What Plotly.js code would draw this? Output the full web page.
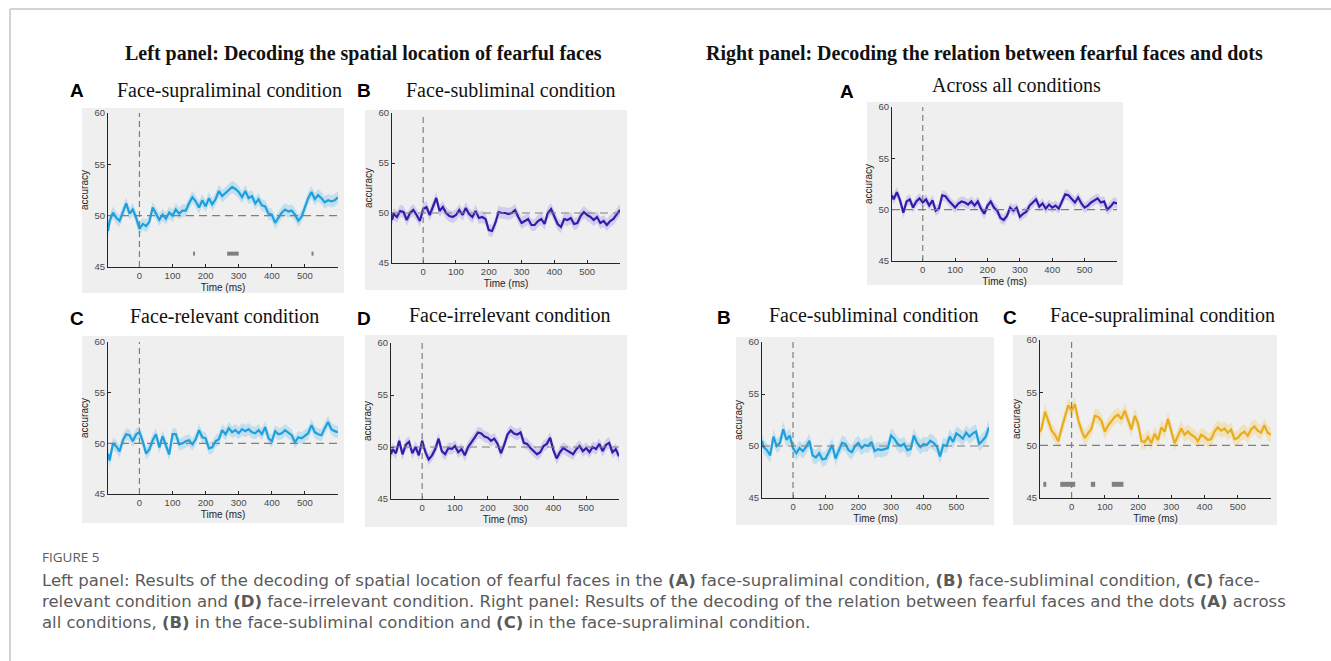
<!DOCTYPE html>
<html><head><meta charset="utf-8">
<script src="https://cdn.plot.ly/plotly-3.0.1.min.js"></script>
<style>html,body{margin:0;padding:0;background:#fff;}#chart{width:1331px;height:661px;}</style>
</head><body><div id="chart"></div>
<script>
// ---------- DATA ----------
const times = [-95,-90,-80,-70,-60,-50,-40,-30,-20,-10,
  0,10,20,30,40,50,60,70,80,90,
  100,110,120,130,140,150,160,170,180,190,
  200,210,220,230,240,250,260,270,280,290,
  300,310,320,330,340,350,360,370,380,390,
  400,410,420,430,440,450,460,470,480,490,
  500,510,520,530,540,550,560,570,580,590,
  600];
const timeTicks = [0,100,200,300,400,500];
const accTicks = [45,50,55,60];

// Left panel (spatial location)
const leftA_supraliminal = [48.5,49.5,50.3,49.8,49.5,50.4,51.2,50.2,50.6,49.8,
  48.7,49.2,49.0,49.4,50.8,50.2,49.6,50.1,49.7,50.3,
  50.0,50.6,50.2,50.5,50.5,51.2,51.8,51.4,50.8,51.5,
  50.9,51.7,51.1,51.6,52.4,51.9,52.2,52.5,52.8,52.6,
  52.3,51.8,52.4,51.7,51.9,51.2,51.6,51.0,50.9,50.2,
  50.1,49.3,49.8,50.3,50.6,50.4,50.5,50.1,49.5,49.9,
  50.8,51.7,52.3,51.6,52.0,51.7,51.3,51.5,51.4,51.5,
  51.8];
const leftB_subliminal = [49.3,49.9,49.6,50.2,50.1,49.3,50.0,50.3,49.8,49.2,
  50.4,50.6,49.8,50.6,51.5,50.2,50.6,50.0,49.7,49.6,
  49.8,50.3,49.8,50.5,49.9,49.6,50.2,49.5,49.6,49.4,
  48.3,48.2,49.0,50.1,50.0,50.0,49.9,50.0,50.3,49.6,
  49.0,49.2,49.4,48.8,48.8,49.2,49.4,48.9,50.0,50.4,
  49.6,48.9,48.6,49.4,49.3,49.5,48.9,49.0,49.7,50.1,
  49.8,49.6,49.3,49.6,49.0,49.2,48.8,49.2,49.4,49.8,
  50.3];
const leftC_relevant = [49.0,48.3,50.0,49.7,49.2,50.3,50.9,50.8,50.2,50.9,
  51.1,50.2,49.0,49.4,50.3,50.9,49.6,50.7,49.8,48.9,
  50.9,50.9,49.9,50.0,50.2,50.3,49.9,50.4,51.3,50.6,
  50.5,49.5,49.6,50.2,50.4,51.3,50.9,51.5,51.1,51.3,
  51.0,51.4,51.2,51.4,51.1,51.0,51.3,50.9,51.6,50.5,
  50.2,51.2,50.9,51.0,51.3,51.0,50.8,50.1,50.6,50.5,
  50.8,51.0,51.8,51.1,50.9,50.8,51.5,52.1,51.4,51.2,
  51.1];
const leftD_irrelevant = [49.3,49.8,49.4,50.6,49.3,50.2,50.5,49.4,50.0,49.2,
  50.6,49.5,48.8,49.2,49.8,50.8,49.6,49.3,49.9,49.8,
  50.1,49.5,49.8,49.2,50.0,50.4,50.9,51.4,51.3,51.0,
  50.9,50.6,50.8,50.3,49.4,50.2,51.2,51.6,51.3,51.2,
  51.4,50.4,50.3,49.9,49.6,49.3,49.5,50.1,50.3,50.9,
  49.7,48.9,49.5,49.9,49.7,49.5,49.3,49.8,50.1,49.6,
  49.9,49.5,50.0,49.8,50.3,49.6,50.2,50.4,49.5,49.8,
  49.1];
// Right panel (relation faces-dots)
const rightA_all = [51.4,51.0,51.7,50.9,49.7,50.8,51.0,50.2,50.8,51.1,
  50.7,51.0,50.4,50.9,49.9,50.1,51.4,51.3,50.9,50.6,
  50.2,50.6,50.8,50.7,50.5,50.8,50.4,50.8,50.1,49.6,
  50.4,50.8,50.2,49.9,49.2,49.0,49.4,50.2,49.9,50.2,
  49.3,49.6,49.8,50.4,50.7,51.0,50.3,50.6,50.1,50.5,
  50.2,50.4,50.1,50.8,51.5,51.4,51.0,50.7,51.2,50.6,
  50.2,50.4,50.7,50.9,51.1,50.7,50.8,50.0,50.3,50.7,
  50.6];
const rightB_subliminal = [50.5,49.9,49.6,49.1,50.9,50.0,50.3,51.6,50.6,51.0,
  49.8,49.3,49.8,49.5,49.9,50.5,49.1,48.9,49.3,48.7,
  48.8,49.5,50.1,48.8,49.6,50.3,50.2,49.6,49.4,50.0,
  50.3,49.8,50.1,50.0,50.4,49.5,49.7,49.6,49.7,49.8,
  51.0,50.7,50.2,50.0,50.2,49.6,49.7,51.0,50.3,49.9,
  50.2,50.1,50.5,50.3,50.0,49.0,50.1,50.0,50.9,50.4,
  51.2,51.0,50.7,51.3,50.9,51.2,51.4,50.2,50.5,50.9,
  51.8];
const rightC_supraliminal = [51.3,51.6,53.2,52.2,51.4,51.0,50.4,51.6,52.7,53.8,
  53.3,53.9,52.4,51.4,50.7,51.2,51.6,52.8,52.7,52.3,
  51.3,51.9,52.3,52.7,52.9,52.5,53.3,52.4,51.5,52.8,
  52.1,50.4,50.3,50.8,50.2,51.1,50.5,51.7,51.3,52.5,
  51.4,50.2,50.9,51.6,51.0,51.3,51.0,50.8,50.4,51.0,
  50.8,50.5,50.6,51.3,51.7,51.4,51.6,51.2,51.5,50.6,
  50.7,51.1,51.3,50.9,51.5,51.8,51.4,51.2,51.9,51.2,
  51.0];
// approximate half-width of the shaded error band per panel
const bandHalfWidth = [0.6, 0.6, 0.6, 0.55, 0.5, 0.7, 0.7];
// significant time windows (ms)
const sigLeftA_start = [162, 265, 520];
const sigLeftA_end   = [168, 300, 526];
const sigRightC_start = [-85, -34, 58, 121];
const sigRightC_end   = [-76, 11, 71, 156];
const sigLevel = 46.3;
const chanceLevel = 50;

// ---------- LAYOUT HELPERS ----------
const W = 1331, H = 661;
const cBlue = 'rgb(28,160,222)', bBlue = 'rgba(40,170,230,0.22)';
const cIndigo = 'rgb(52,28,170)', bIndigo = 'rgba(90,70,225,0.2)';
const cGold = 'rgb(233,172,28)', bGold = 'rgba(245,195,60,0.28)';

const panels = [
  {y: leftA_supraliminal, line: cBlue, band: bBlue, plot: [108,338,113,267], bg: [82,344,108,293], letter: 'A', lp: [77,90], title: 'Face-supraliminal condition', tp: [229,90]},
  {y: leftB_subliminal, line: cIndigo, band: bIndigo, plot: [392,620,113,263], bg: [365,627,110,290], letter: 'B', lp: [364,90], title: 'Face-subliminal condition', tp: [510,90]},
  {y: leftC_relevant, line: cBlue, band: bBlue, plot: [108,338,342,494], bg: [82,344,336,523], letter: 'C', lp: [77,318], title: 'Face-relevant condition', tp: [224,316]},
  {y: leftD_irrelevant, line: cIndigo, band: bIndigo, plot: [391,619,343,499], bg: [365,627,335,527], letter: 'D', lp: [364,318], title: 'Face-irrelevant condition', tp: [510,315]},
  {y: rightA_all, line: cIndigo, band: bIndigo, plot: [892,1117,107,261], bg: [867,1123,102,285], letter: 'A', lp: [847,91], title: 'Across all conditions', tp: [1016,85]},
  {y: rightB_subliminal, line: cBlue, band: bBlue, plot: [762,989,342,498], bg: [736,994,337,525], letter: 'B', lp: [724,317], title: 'Face-subliminal condition', tp: [873,315]},
  {y: rightC_supraliminal, line: cGold, band: bGold, plot: [1040,1271,340,498], bg: [1013,1277,335,525], letter: 'C', lp: [1010,317], title: 'Face-supraliminal condition', tp: [1162,315]}
];

const data = [];
const layout = {
  width: W, height: H, margin: {l:0, r:0, t:0, b:0},
  paper_bgcolor: '#ffffff', plot_bgcolor: '#ffffff',
  showlegend: false, shapes: [], annotations: [],
  font: {family: 'Liberation Sans, Arial, sans-serif', color: '#262626'}
};
const px = v => v / W, py = v => 1 - v / H;
const tickFont = {family: 'Liberation Sans, Arial, sans-serif', size: 9.5, color: '#4a4a4a'};

function sigSegments(starts, ends) {
  const xs = [], ys = [];
  starts.forEach((s, i) => { xs.push(s, ends[i], null); ys.push(sigLevel, sigLevel, null); });
  return {xs, ys};
}

panels.forEach((p, i) => {
  const n = i === 0 ? '' : String(i + 1);
  const xa = 'x' + n, ya = 'y' + n;
  const half = bandHalfWidth[i];
  const upper = p.y.map(v => v + half), lower = p.y.map(v => v - half);
  data.push({x: times, y: upper, xaxis: xa, yaxis: ya, mode: 'lines', line: {width: 0, color: p.band}, hoverinfo: 'skip'});
  data.push({x: times, y: lower, xaxis: xa, yaxis: ya, mode: 'lines', line: {width: 0, color: p.band}, fill: 'tonexty', fillcolor: p.band, hoverinfo: 'skip'});
  data.push({x: times, y: p.y, xaxis: xa, yaxis: ya, mode: 'lines', line: {width: 2.2, color: p.line}});

  layout['xaxis' + n] = {
    domain: [px(p.plot[0]), px(p.plot[1])], range: [-95, 600], anchor: ya,
    tickvals: timeTicks, showline: true, linecolor: '#262626', linewidth: 1,
    ticks: 'inside', ticklen: 3, tickcolor: '#262626', showgrid: false, zeroline: false,
    tickfont: tickFont, fixedrange: true,
    title: {text: 'Time (ms)', font: {family: 'Liberation Sans, Arial, sans-serif', size: 10, color: '#262626'}, standoff: 3}
  };
  layout['yaxis' + n] = {
    domain: [py(p.plot[3]), py(p.plot[2])], range: [45, 60], anchor: xa,
    tickvals: accTicks, showline: true, linecolor: '#262626', linewidth: 1,
    ticks: 'inside', ticklen: 3, tickcolor: '#262626', showgrid: false, zeroline: false,
    tickfont: tickFont, fixedrange: true,
    title: {text: 'accuracy', font: {family: 'Liberation Sans, Arial, sans-serif', size: 10, color: '#262626'}, standoff: 4}
  };
  // grey figure background
  layout.shapes.push({type: 'rect', xref: 'paper', yref: 'paper', x0: px(p.bg[0]), x1: px(p.bg[1]), y0: py(p.bg[3]), y1: py(p.bg[2]), fillcolor: '#efefef', line: {width: 0}, layer: 'below'});
  // dashed reference lines
  layout.shapes.push({type: 'line', xref: xa, yref: ya, x0: 0, x1: 0, y0: 45, y1: 60, line: {color: '#7f7f7f', width: 1.2, dash: '6px,4px'}});
  layout.shapes.push({type: 'line', xref: xa, yref: ya, x0: -95, x1: 600, y0: chanceLevel, y1: chanceLevel, line: {color: '#7f7f7f', width: 1.2, dash: '8px,5px'}});
  // panel letter and title
  layout.annotations.push({xref: 'paper', yref: 'paper', x: px(p.lp[0]), y: py(p.lp[1]), xanchor: 'center', yanchor: 'middle', showarrow: false, text: '<b>' + p.letter + '</b>', font: {family: 'Liberation Sans, Arial, sans-serif', size: 19, color: '#000'}});
  layout.annotations.push({xref: 'paper', yref: 'paper', x: px(p.tp[0]), y: py(p.tp[1]), xanchor: 'center', yanchor: 'middle', showarrow: false, text: p.title, font: {family: 'Liberation Serif, Times New Roman, serif', size: 20, color: '#111'}});
});

// significance markers
const sA = sigSegments(sigLeftA_start, sigLeftA_end);
data.push({x: sA.xs, y: sA.ys, xaxis: 'x', yaxis: 'y', mode: 'lines', line: {width: 4, color: '#808080'}, connectgaps: false});
const sC = sigSegments(sigRightC_start, sigRightC_end);
data.push({x: sC.xs, y: sC.ys, xaxis: 'x7', yaxis: 'y7', mode: 'lines', line: {width: 5, color: '#808080'}, connectgaps: false});

// main panel headings
layout.annotations.push({xref: 'paper', yref: 'paper', x: px(364), y: py(53), xanchor: 'center', yanchor: 'middle', showarrow: false, text: '<b>Left panel: Decoding the spatial location of fearful faces</b>', font: {family: 'Liberation Serif, Times New Roman, serif', size: 20, color: '#111'}});
layout.annotations.push({xref: 'paper', yref: 'paper', x: px(985), y: py(53), xanchor: 'center', yanchor: 'middle', showarrow: false, text: '<b>Right panel: Decoding the relation between fearful faces and dots</b>', font: {family: 'Liberation Serif, Times New Roman, serif', size: 20, color: '#111'}});

// caption
const capFont = {family: 'DejaVu Sans, Open Sans, sans-serif', size: 16.5, color: '#5a5a5a'};
layout.annotations.push({xref: 'paper', yref: 'paper', x: px(40), y: py(557), xanchor: 'left', yanchor: 'middle', showarrow: false, text: 'FIGURE 5', font: {family: 'Open Sans, sans-serif', size: 13.5, color: '#5a5a5a'}});
const captionLines = [
  'Left panel: Results of the decoding of spatial location of fearful faces in the <b>(A)</b> face-supraliminal condition, <b>(B)</b> face-subliminal condition, <b>(C)</b> face-',
  'relevant condition and <b>(D)</b> face-irrelevant condition. Right panel: Results of the decoding of the relation between fearful faces and the dots <b>(A)</b> across',
  'all conditions, <b>(B)</b> in the face-subliminal condition and <b>(C)</b> in the face-supraliminal condition.'
];
const capY = [580, 601, 622];
captionLines.forEach((t, i) => layout.annotations.push({xref: 'paper', yref: 'paper', x: px(40), y: py(capY[i]), xanchor: 'left', yanchor: 'middle', showarrow: false, text: t, font: capFont}));

// figure frame
layout.shapes.push({type: 'line', xref: 'paper', yref: 'paper', x0: px(10), x1: 1, y0: py(9), y1: py(9), line: {color: '#c4c4c4', width: 1.5}, layer: 'below'});
layout.shapes.push({type: 'line', xref: 'paper', yref: 'paper', x0: px(10), x1: px(10), y0: py(9), y1: 0, line: {color: '#c4c4c4', width: 1.5}, layer: 'below'});

Plotly.newPlot('chart', data, layout, {staticPlot: true, displayModeBar: false});
</script></body></html>
